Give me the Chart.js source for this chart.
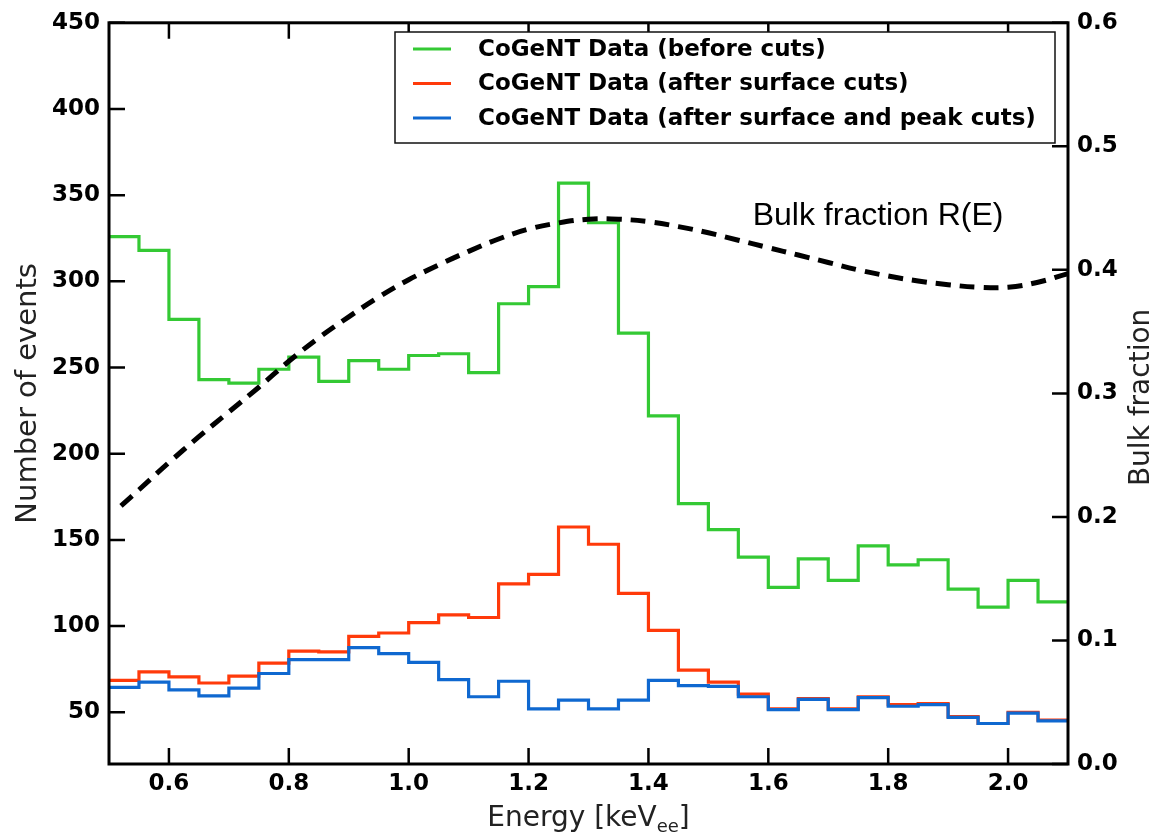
<!DOCTYPE html>
<html>
<head>
<meta charset="utf-8">
<script src="https://cdn.jsdelivr.net/npm/chart.js@4.4.0/dist/chart.umd.min.js"></script>
<style>
  html, body { margin: 0; padding: 0; background: #fff; }
  #wrap { width: 1155px; height: 832px; }
</style>
</head>
<body>
<div id="wrap"><canvas id="cogentChart"></canvas></div>
<script>
// histogram bin edges in keV_ee (32 bins of 0.05)
const binEdges = [0.50, 0.55, 0.60, 0.65, 0.70, 0.75, 0.80, 0.85, 0.90, 0.95,
                  1.00, 1.05, 1.10, 1.15, 1.20, 1.25, 1.30, 1.35, 1.40, 1.45,
                  1.50, 1.55, 1.60, 1.65, 1.70, 1.75, 1.80, 1.85, 1.90, 1.95,
                  2.00, 2.05, 2.10];

// counts per bin
const beforeCuts = [326, 318, 278, 243, 241, 249, 256, 242, 254, 249,
                    257, 258, 247, 287, 297, 357, 334, 270, 222, 171,
                    156, 140, 122.5, 139, 126.5, 146.5, 135.5, 138.5, 121.5, 111,
                    126.5, 114];
const afterSurface = [68.5, 73.5, 70.5, 67, 71, 78.5, 85.5, 85, 94, 96,
                      102, 106.5, 105, 124.5, 130, 157.5, 147.5, 119, 97.5, 74.5,
                      67.5, 60.5, 52, 58, 52, 59, 54.5, 55, 47.5, 43.5,
                      50, 45.5];
const afterSurfacePeak = [64.5, 67.5, 63, 59.5, 64, 72.5, 80.5, 80.5, 87.5, 84,
                          79, 69, 59, 68, 52, 57, 52, 57, 68.5, 65.5,
                          65, 59, 51.5, 57.5, 51.5, 58.5, 53.5, 54.5, 47, 43.5,
                          49.5, 45];

// bulk fraction curve R(E)
const bulkEnergy = [0.52, 0.55, 0.60, 0.65, 0.70, 0.75, 0.80, 0.85, 0.90, 0.95,
                    1.00, 1.05, 1.10, 1.15, 1.20, 1.25, 1.30, 1.35, 1.40, 1.45,
                    1.50, 1.55, 1.60, 1.65, 1.70, 1.75, 1.80, 1.85, 1.90, 1.95,
                    2.00, 2.05, 2.10];
const bulkFraction = [0.209, 0.222, 0.244, 0.265, 0.285, 0.305, 0.326, 0.345, 0.362, 0.378,
                      0.392, 0.404, 0.415, 0.425, 0.433, 0.438, 0.441, 0.441, 0.439, 0.435,
                      0.430, 0.424, 0.418, 0.412, 0.406, 0.400, 0.395, 0.391, 0.388, 0.386,
                      0.386, 0.390, 0.397];

const seriesLabels = ['CoGeNT Data (before cuts)',
                      'CoGeNT Data (after surface cuts)',
                      'CoGeNT Data (after surface and peak cuts)'];
const seriesColors = ['#34c934', '#ff3a0a', '#0f68d0'];

const energyTicks = [0.6, 0.8, 1.0, 1.2, 1.4, 1.6, 1.8, 2.0];
const eventTicks = [50, 100, 150, 200, 250, 300, 350, 400, 450];
const fractionTicks = [0.0, 0.1, 0.2, 0.3, 0.4, 0.5, 0.6];

const tickFont = { family: 'DejaVu Sans', weight: 'bold', size: 23 };

// histogram points: left edges + closing right edge, drawn stepped
function histPoints(values) {
    const pts = values.map((v, i) => ({ x: binEdges[i], y: v }));
    pts.push({ x: binEdges[binEdges.length - 1], y: values[values.length - 1] });
    return pts;
}

const histDataset = (idx, values) => ({
    label: seriesLabels[idx],
    data: histPoints(values),
    yAxisID: 'y',
    borderColor: seriesColors[idx],
    borderWidth: 3.2,
    stepped: 'before',
    pointRadius: 0,
    fill: false,
    order: 3 - idx
});

// frame + inward tick marks
const framePlugin = {
    id: 'frame',
    afterDraw(chart) {
        const { ctx, chartArea: a, scales } = chart;
        const len = 16;
        ctx.save();
        ctx.strokeStyle = '#000';
        ctx.lineWidth = 2.5;
        ctx.beginPath();
        energyTicks.forEach(v => {
            const x = scales.x.getPixelForValue(v);
            ctx.moveTo(x, a.bottom); ctx.lineTo(x, a.bottom - len);
            ctx.moveTo(x, a.top); ctx.lineTo(x, a.top + len);
        });
        eventTicks.forEach(v => {
            const y = scales.y.getPixelForValue(v);
            ctx.moveTo(a.left, y); ctx.lineTo(a.left + len, y);
        });
        fractionTicks.forEach(v => {
            const y = scales.y1.getPixelForValue(v);
            ctx.moveTo(a.right, y); ctx.lineTo(a.right - len, y);
        });
        ctx.stroke();
        ctx.lineWidth = 3;
        ctx.strokeRect(a.left, a.top, a.right - a.left, a.bottom - a.top);
        ctx.restore();
    }
};

// legend box inside the plot, plus text labels
const legendPlugin = {
    id: 'boxLegend',
    afterDraw(chart) {
        const { ctx, scales, chartArea: a } = chart;
        const bx = 395, by = 32, bw = 660, bh = 111;
        ctx.save();
        ctx.fillStyle = '#fff';
        ctx.fillRect(bx, by, bw, bh);
        ctx.strokeStyle = '#111';
        ctx.lineWidth = 1.5;
        ctx.strokeRect(bx, by, bw, bh);
        ctx.font = 'bold 23px "DejaVu Sans"';
        ctx.textBaseline = 'middle';
        seriesLabels.forEach((lab, i) => {
            const y = by + 17 + i * 34.5;
            ctx.strokeStyle = seriesColors[i];
            ctx.lineWidth = 3.2;
            ctx.beginPath();
            ctx.moveTo(413, y); ctx.lineTo(451, y);
            ctx.stroke();
            ctx.fillStyle = '#000';
            ctx.fillText(lab, 478, y + 1);
        });

        // curve annotation
        ctx.font = '32px "Liberation Sans"';
        ctx.textBaseline = 'alphabetic';
        ctx.fillText('Bulk fraction R(E)', scales.x.getPixelForValue(1.574), scales.y1.getPixelForValue(0.436));

        // right axis title, reading bottom to top
        ctx.save();
        ctx.translate(1142, (a.top + a.bottom) / 2 + 4);
        ctx.rotate(-Math.PI / 2);
        ctx.font = '28px "DejaVu Sans"';
        ctx.fillStyle = '#222';
        ctx.textAlign = 'center';
        ctx.textBaseline = 'middle';
        ctx.fillText('Bulk fraction', 0, 0);
        ctx.restore();

        // x title with subscript
        const cx = (a.left + a.right) / 2;
        const base = 826;
        const main = 'Energy [keV', sub = 'ee', close = ']';
        ctx.font = '28px "DejaVu Sans"';
        const w1 = ctx.measureText(main).width, w3 = ctx.measureText(close).width;
        ctx.font = '18px "DejaVu Sans"';
        const w2 = ctx.measureText(sub).width;
        let x0 = cx - (w1 + w2 + w3) / 2;
        ctx.fillStyle = '#222';
        ctx.font = '28px "DejaVu Sans"';
        ctx.fillText(main, x0, base);
        ctx.font = '18px "DejaVu Sans"';
        ctx.fillText(sub, x0 + w1, base + 6);
        ctx.font = '28px "DejaVu Sans"';
        ctx.fillText(close, x0 + w1 + w2, base);
        ctx.restore();
    }
};

const ctx = document.getElementById('cogentChart').getContext('2d');
new Chart(ctx, {
    type: 'line',
    data: {
        datasets: [
            {
                label: 'Bulk fraction R(E)',
                data: bulkEnergy.map((e, i) => ({ x: e, y: bulkFraction[i] })),
                yAxisID: 'y1',
                borderColor: '#000',
                borderWidth: 5,
                borderDash: [15, 9],
                borderCapStyle: 'butt',
                tension: 0.4,
                pointRadius: 0,
                fill: false,
                order: 0
            },
            histDataset(0, beforeCuts),
            histDataset(1, afterSurface),
            histDataset(2, afterSurfacePeak)
        ]
    },
    options: {
        responsive: true,
        maintainAspectRatio: false,
        animation: false,
        layout: { padding: { top: 20, left: 0, right: 0, bottom: 0 } },
        plugins: {
            legend: { display: false },
            tooltip: { enabled: false }
        },
        scales: {
            x: {
                type: 'linear',
                min: 0.5,
                max: 2.1,
                afterBuildTicks: s => { s.ticks = energyTicks.map(v => ({ value: v })); },
                afterFit: s => { s.height = 68; },
                grid: { display: false, drawTicks: false },
                border: { display: false },
                ticks: {
                    font: tickFont,
                    color: '#000',
                    padding: 6,
                    maxRotation: 0,
                    callback: v => v.toFixed(1)
                }
            },
            y: {
                position: 'left',
                min: 20,
                max: 450,
                afterBuildTicks: s => { s.ticks = eventTicks.map(v => ({ value: v })); },
                afterFit: s => { s.width = 109; },
                grid: { display: false, drawTicks: false },
                border: { display: false },
                ticks: { font: tickFont, color: '#000', padding: 9 },
                title: {
                    display: true,
                    text: 'Number of events',
                    color: '#222',
                    font: { family: 'DejaVu Sans', size: 29, lineHeight: 1 },
                    padding: { top: 14, bottom: 0 }
                }
            },
            y1: {
                position: 'right',
                min: 0,
                max: 0.6,
                afterBuildTicks: s => { s.ticks = fractionTicks.map(v => ({ value: v })); },
                afterFit: s => { s.width = 87; },
                grid: { display: false, drawTicks: false },
                border: { display: false },
                ticks: { font: tickFont, color: '#000', padding: 9, callback: v => v.toFixed(1) }
            }
        }
    },
    plugins: [framePlugin, legendPlugin]
});
</script>
</body>
</html>
